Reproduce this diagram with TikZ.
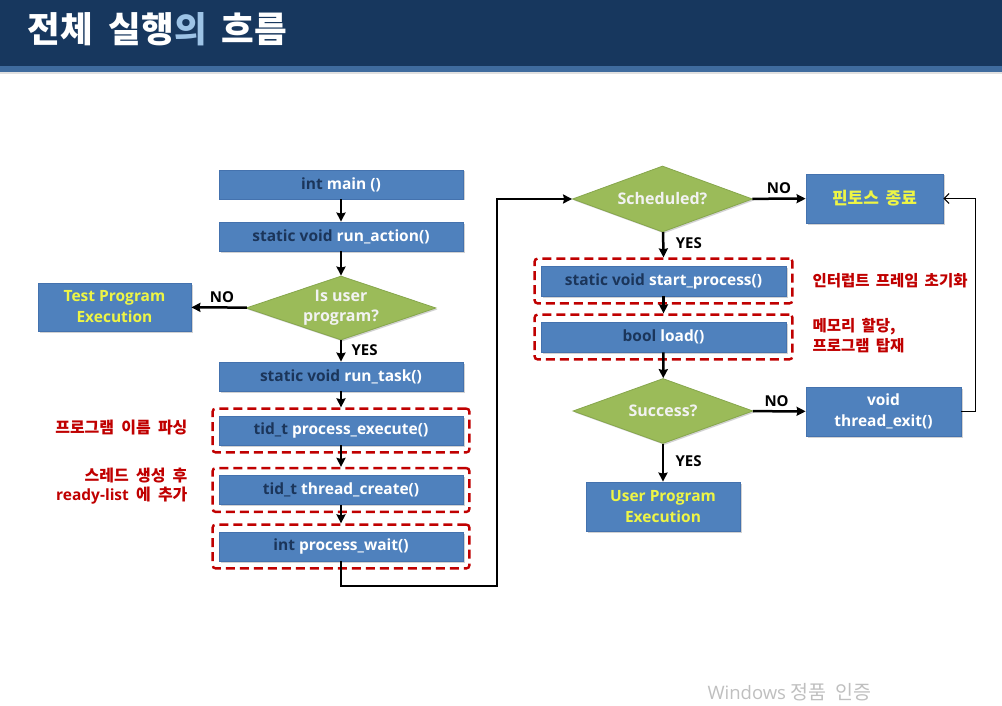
\documentclass[tikz,border=0pt]{standalone}
\usepackage{fontspec}
\setmainfont{Open Sans}
\newfontfamily\kr{Noto Sans CJK KR}
\usetikzlibrary{shapes.geometric,arrows.meta,shadows,fit}
\definecolor{navy}{HTML}{17375E}
\definecolor{strip}{HTML}{3F6B9E}
\definecolor{boxfill}{HTML}{4F81BD}
\definecolor{boxline}{HTML}{4472AE}
\definecolor{dkt}{HTML}{1B355A}
\definecolor{dfill}{HTML}{9BBB59}
\definecolor{dline}{HTML}{86A64C}
\definecolor{redc}{HTML}{C00000}
\definecolor{yel}{HTML}{EEF545}
\definecolor{titleblue}{HTML}{9DC3E6}
\newcommand{\wsa}{\spaceskip 0.4em\relax}
\newcommand{\wsb}{\spaceskip 0.45em\relax}
\tikzset{
 shad/.style={drop shadow={opacity=0.35, shadow xshift=1.5pt, shadow yshift=-1.5pt}},
 pbox/.style={draw=boxline, line width=0.8pt, fill=boxfill, minimum width=244pt, minimum height=29pt,
   inner sep=0pt, font=\bfseries\fontsize{15.5}{21}\selectfont, text=white, align=center, shad},
 dia/.style={diamond, draw=dline, line width=0.8pt, fill=dfill, inner sep=0pt, aspect=3,
   minimum width=180pt, minimum height=66pt, text=white!95!black,
   font=\bfseries\fontsize{16}{20}\selectfont, align=center, shad},
 dbox/.style={draw=redc, line width=2.4pt, dash pattern=on 9pt off 5pt, rounded corners=3pt,
   inner xsep=6pt, inner ysep=7pt},
 arr/.style={line width=2.5pt, -{Stealth[length=9pt,width=9pt,inset=1pt]}},
 thinarr/.style={line width=1pt, -{Straight Barb[length=5pt,width=10pt]}},
 lbl/.style={font=\bfseries\fontsize{15}{18}\selectfont, text=black},
 rlbl/.style={font=\kr\bfseries\fontsize{15.5}{20}\selectfont\wsa, text=redc},
 llbl/.style={font=\kr\bfseries\fontsize{16}{19}\selectfont\wsb, text=redc},
}
\newcommand{\dk}[1]{\textcolor{dkt}{#1}}
\begin{document}
\begin{tikzpicture}[x=1pt,y=-1pt]
\useasboundingbox (0,0) rectangle (1002,706);
\fill[white] (0,0) rectangle (1002,706);
% header
\fill[navy] (0,0) rectangle (1002,66);
\fill[strip] (0,66) rectangle (1002,72);
\fill[black!12] (0,72) rectangle (1002,74);
\node[anchor=west, text=white, font=\kr\bfseries\fontsize{35.5}{38}\selectfont] (title) at (24,29) {전체\hspace{16pt}실행\textcolor{titleblue}{의}\hspace{15pt}흐름};

% left column
\node[pbox] (main) at (341,184.5) {\dk{int} main ()};
\node[pbox] (ract) at (341,236.5) {\dk{static void} run\_action()};
\node[dia, minimum width=190pt, minimum height=64pt] (user) at (341,308) {Is user\\program?};
\node[pbox, minimum width=153pt, minimum height=48pt, text=yel] (test) at (114.5,307) {Test Program\\Execution};
\node[pbox] (rtask) at (341,376.5) {\dk{static void} run\_task()};
\node[pbox] (pe) at (341,430.5) {\dk{tid\_t} process\_execute()};
\node[pbox] (tc) at (341,490) {\dk{tid\_t} thread\_create()};
\node[pbox] (pw) at (341,546.5) {\dk{int} process\_wait()};
\node[dbox, fit=(pe)] (ped) {};
\node[dbox, fit=(tc)] (tcd) {};
\node[dbox, fit=(pw)] (pwd) {};
\node[llbl, anchor=east] (l1) at (191,428) {프로그램 이름 파싱};
\node[llbl, anchor=east, align=right] (l2) at (191,486) {스레드 생성 후\\{\rmfamily\bfseries\fontsize{15.5}{19}\selectfont ready-list} 에 추가};

% right column
\node[dia, minimum width=180pt, minimum height=66pt] (sched) at (662.5,199) {Scheduled?};
\node[pbox, minimum width=137pt, minimum height=49pt, text=yel, font=\kr\bfseries\fontsize{17}{21}\selectfont\wsa] (pend) at (874.5,198.5) {핀토스 종료};
\node[pbox, minimum width=245pt, minimum height=30pt] (sp) at (663.5,281) {\dk{static void} start\_process()};
\node[pbox, minimum width=245pt, minimum height=30pt] (ld) at (663.5,337) {\dk{bool} load()};
\node[dbox, fit=(sp)] (spd) {};
\node[dbox, fit=(ld)] (ldd) {};
\node[rlbl, anchor=west] (r1) at (809,281) {인터럽트 프레임 초기화};
\node[rlbl, anchor=west, align=left] (r2) at (809,336) {메모리 할당,\\프로그램 탑재};
\node[dia, minimum width=180pt, minimum height=65pt] (succ) at (663,411) {Success?};
\node[pbox, minimum width=155pt, minimum height=49pt] (texit) at (883.5,411.5) {void\\thread\_exit()};
\node[pbox, minimum width=154pt, minimum height=49pt, text=yel] (upe) at (663,506.5) {User Program\\Execution};

% connectors
\draw[arr] (main) -- (ract);
\draw[arr] (ract) -- (user);
\draw[arr] (user) -- node[lbl, above, pos=0.45] {NO} (test);
\draw[arr] (user) -- node[lbl, right, pos=0.45, xshift=6pt] {YES} (rtask);
\draw[arr] (rtask) -- (ped.north);
\draw[arr] (pe) -- (tcd.north);
\draw[arr] (tc) -- (pwd.north);
\coordinate (c1) at (497,586);
\draw[arr] (pw.south) -- (pw.south |- c1) -- (c1) |- (sched.west);
\draw[arr] (sched) -- node[lbl, above, pos=0.5] {NO} (pend);
\draw[arr] (sched) -- node[lbl, right, pos=0.45, xshift=8pt] {YES} (spd.north);
\draw[arr] (sp) -- (ldd.north);
\draw[arr] (ld) -- (succ);
\draw[arr] (succ) -- node[lbl, above, pos=0.45] {NO} (texit);
\draw[arr] (succ) -- node[lbl, right, pos=0.45, xshift=8pt] {YES} (upe);
\coordinate (c2) at (975,411.5);
\draw[thinarr] (texit.east) -- (c2) |- (pend.east);

% watermark
\node[anchor=west, text=black!25, font=\fontsize{18.5}{20}\selectfont] (wm) at (704,692) {Windows {\kr\fontsize{19.5}{20}\selectfont\spaceskip 0.45em\relax 정품 인증}};
\end{tikzpicture}
\end{document}
